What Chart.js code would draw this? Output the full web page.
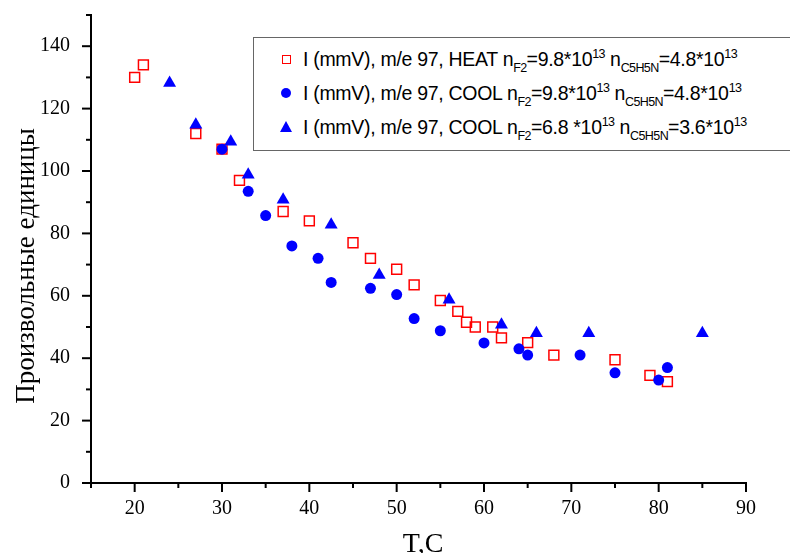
<!DOCTYPE html>
<html>
<head>
<meta charset="utf-8">
<script src="https://cdn.jsdelivr.net/npm/chart.js@4/dist/chart.umd.min.js"></script>
<style>
  html, body { margin: 0; padding: 0; background: #fff; overflow: hidden; }
  #wrap { position: relative; width: 790px; height: 553px; overflow: hidden; }
  #legend {
    position: absolute; left: 253px; top: 37px; width: 700px; height: 112px;
    border: 1.5px solid #666; background: #fff;
    font-family: "Liberation Sans", Arial, sans-serif; font-size: 19.5px; color: #000;
  }
  .row { position: absolute; left: 0; height: 34px; line-height: 34px; white-space: nowrap; }
  .mark { position: absolute; }
  .txt { position: absolute; left: 49px; top: 0; letter-spacing: -0.3px; }
  .txt sub, .txt sup { font-size: 12.5px; line-height: 0; vertical-align: baseline; position: relative; letter-spacing: -0.6px; }
  .txt sub { top: 6px; }
  .txt sup { top: -8px; }
  .sq { left: 28px; top: 13px; width: 7px; height: 7px; border: 1.5px solid #ff0000; }
  .ci { left: 27px; top: 12px; width: 10px; height: 10px; border-radius: 50%; background: #0000ff; }
  .tr { left: 26px; top: 11px; width: 0; height: 0; border-left: 6.5px solid transparent; border-right: 6.5px solid transparent; border-bottom: 11px solid #0000ff; }
</style>
</head>
<body>
<div id="wrap">
  <canvas id="chart" width="790" height="553"></canvas>
  <div id="legend">
    <div class="row" style="top:4px"><span class="mark sq"></span><span class="txt">I (mmV), m/e 97, HEAT n<sub>F2</sub>=9.8*10<sup>13</sup> n<sub>C5H5N</sub>=4.8*10<sup>13</sup></span></div>
    <div class="row" style="top:38px"><span class="mark ci"></span><span class="txt">I (mmV), m/e 97, COOL n<sub>F2</sub>=9.8*10<sup>13</sup> n<sub>C5H5N</sub>=4.8*10<sup>13</sup></span></div>
    <div class="row" style="top:72px"><span class="mark tr"></span><span class="txt">I (mmV), m/e 97, COOL n<sub>F2</sub>=6.8 *10<sup>13</sup> n<sub>C5H5N</sub>=3.6*10<sup>13</sup></span></div>
  </div>
</div>
<script>
// Данные
const heatT = [20, 21, 27, 30, 32, 37, 40, 45, 47, 50, 52, 55, 57, 58, 59, 61, 62, 65, 68, 75, 79, 81];
const heatI = [130, 134, 112, 107, 97, 87, 84, 77, 72, 68.5, 63.5, 58.5, 55, 51.5, 50, 50, 46.5, 45, 41, 39.5, 34.5, 32.5];

const coolT = [30, 33, 35, 38, 41, 42.5, 47, 50, 52, 55, 60, 64, 65, 71, 75, 80, 81];
const coolI = [107, 93.5, 85.7, 76, 72, 64.3, 62.4, 60.4, 52.7, 48.8, 44.9, 43, 41, 41, 35.3, 33, 37];

const cool2T = [24, 27, 31, 33, 37, 42.5, 48, 56, 62, 66, 72, 85];
const cool2I = [128.2, 114.8, 109.4, 98.8, 90.8, 82.8, 66.7, 58.7, 50.7, 48, 48, 48];

const xTitle = "T,C";
const yTitle = "Произвольные единицы";

const toPoints = (xs, ys) => xs.map((x, i) => ({ x: x, y: ys[i] }));

Chart.defaults.font.family = "Liberation Serif";
Chart.defaults.color = "#000";

// Засечки (большие и малые) и подписи осей
const axisDecor = {
  id: "axisDecor",
  afterDraw(chart) {
    const ctx = chart.ctx;
    const xs = chart.scales.x;
    const ys = chart.scales.y;
    ctx.save();
    ctx.strokeStyle = "#000";
    ctx.lineWidth = 2;
    xs.ticks.forEach(t => {
      const px = xs.getPixelForValue(t.value);
      const len = t.value % 10 === 0 ? 9 : 5;
      ctx.beginPath();
      ctx.moveTo(px, xs.top);
      ctx.lineTo(px, xs.top + len);
      ctx.stroke();
    });
    ys.ticks.forEach(t => {
      const py = ys.getPixelForValue(t.value);
      const len = t.value % 20 === 0 ? 9 : 5;
      ctx.beginPath();
      ctx.moveTo(ys.right, py);
      ctx.lineTo(ys.right - len, py);
      ctx.stroke();
    });

    ctx.fillStyle = "#000";
    ctx.font = "28px 'Liberation Serif'";
    ctx.textAlign = "center";
    ctx.textBaseline = "alphabetic";
    ctx.fillText(xTitle, 423, 552);

    ctx.font = "27px 'Liberation Serif'";
    ctx.translate(34, 266);
    ctx.rotate(-Math.PI / 2);
    ctx.fillText(yTitle, 0, 0);
    ctx.restore();
  }
};

const tickFont = { family: "Liberation Serif", size: 20 };

new Chart(document.getElementById("chart").getContext("2d"), {
  type: "scatter",
  data: {
    datasets: [
      {
        label: "HEAT",
        data: toPoints(heatT, heatI),
        pointStyle: "rect",
        pointRadius: 7,
        borderColor: "#ff0000",
        backgroundColor: "rgba(0,0,0,0)",
        borderWidth: 1.5,
        order: 3,
      },
      {
        label: "COOL",
        data: toPoints(coolT, coolI),
        pointStyle: "circle",
        pointRadius: 5.5,
        borderWidth: 0,
        backgroundColor: "#0000ff",
        borderColor: "#0000ff",
        order: 2,
      },
      {
        label: "COOL 2",
        data: toPoints(cool2T, cool2I),
        pointStyle: "triangle",
        pointRadius: 7.5,
        borderWidth: 0,
        backgroundColor: "#0000ff",
        borderColor: "#0000ff",
        order: 1,
      },
    ],
  },
  options: {
    responsive: false,
    animation: false,
    events: [],
    layout: { padding: { top: 15, right: 44, left: 0, bottom: 0 } },
    plugins: {
      legend: { display: false },
      tooltip: { enabled: false },
    },
    scales: {
      x: {
        type: "linear",
        min: 15,
        max: 90,
        afterFit: s => { s.height = 70; },
        grid: { display: false },
        border: { display: true, color: "#000", width: 2 },
        ticks: {
          stepSize: 5,
          autoSkip: false,
          maxRotation: 0,
          padding: 6,
          color: "#000",
          font: tickFont,
          callback: v => (v % 10 === 0 ? v : ""),
        },
      },
      y: {
        type: "linear",
        min: 0,
        max: 150,
        afterFit: s => { s.width = 91; s.paddingTop = 0; s.paddingBottom = 0; },
        grid: { display: false },
        border: { display: true, color: "#000", width: 2 },
        ticks: {
          stepSize: 10,
          autoSkip: false,
          padding: 13,
          color: "#000",
          font: tickFont,
          callback: v => (v % 20 === 0 ? v : ""),
        },
      },
    },
  },
  plugins: [axisDecor],
});
</script>
</body>
</html>
